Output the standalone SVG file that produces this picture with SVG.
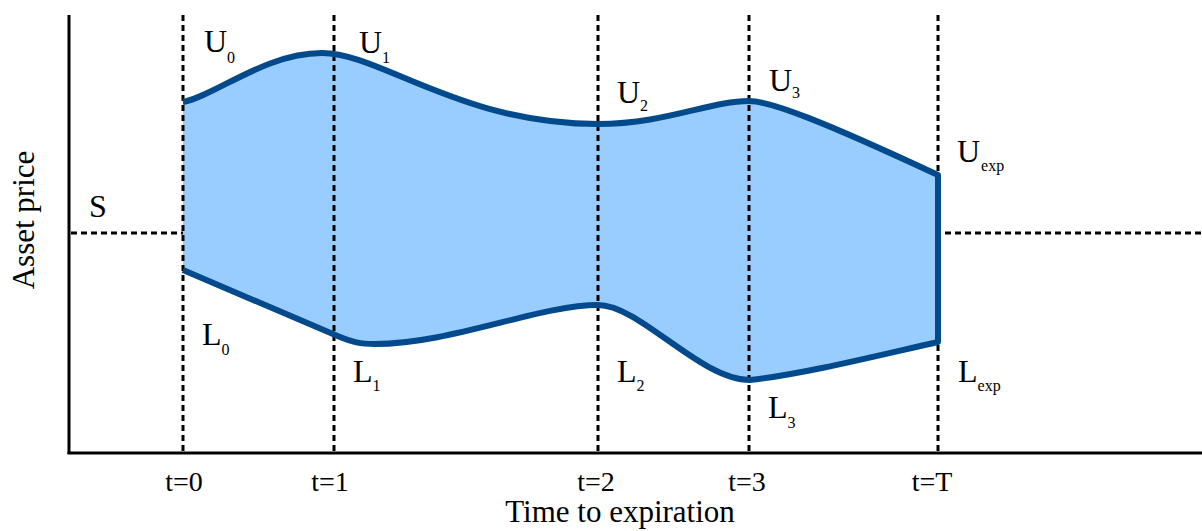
<svg xmlns="http://www.w3.org/2000/svg" width="1202" height="531" viewBox="0 0 1202 531">
<style>
.axis{stroke:#000;stroke-width:3;fill:none}
.dash{stroke:#000;stroke-width:3;stroke-dasharray:6 4;fill:none}
.band{fill:#99CCFF;stroke:none}
.edge{fill:none;stroke:#024A8C;stroke-width:6;stroke-linejoin:round}
text{font-family:"Liberation Serif","Times New Roman",serif;fill:#000}
.lab{font-size:32px}
.sub{font-size:16px}
.tick{font-size:28px;text-anchor:middle}
.title{font-size:31px;text-anchor:middle}
</style>
<rect width="1202" height="531" fill="#fff"/>
<g id="band">
<path class="band" d="M183,102 C215,96 265,53 322,53 C380,53 460,124 598,124 C665,124 710,101 749,101 C770,101 820,120 938,175 L938,342 C880,355 800,375 750,380 C700,380 640,305 598,305 C540,305 450,344 375,344 C360,344 352,342 340,337 L183,270 Z"/>
</g>
<g id="connectors">
<line class="axis" x1="69" y1="15" x2="69" y2="454"/>
<line class="axis" x1="67.5" y1="453" x2="1202" y2="453"/>
<line class="dash" x1="183" y1="15" x2="183" y2="452"/>
<line class="dash" x1="334" y1="15" x2="334" y2="452"/>
<line class="dash" x1="598" y1="15" x2="598" y2="452"/>
<line class="dash" x1="749" y1="15" x2="749" y2="452"/>
<line class="dash" x1="938" y1="15" x2="938" y2="452"/>
<line class="dash" x1="71" y1="233" x2="183" y2="233"/>
<line class="dash" x1="945" y1="233" x2="1202" y2="233"/>
</g>
<g id="boundary">
<path class="edge" d="M183,102 C215,96 265,53 322,53 C380,53 460,124 598,124 C665,124 710,101 749,101 C770,101 820,120 938,175 L938,342 C880,355 800,375 750,380 C700,380 640,305 598,305 C540,305 450,344 375,344 C360,344 352,342 340,337 L183,270"/>
</g>
<g id="upper-labels">
<text class="lab" x="204" y="52">U<tspan class="sub" dy="11">0</tspan></text>
<text class="lab" x="359" y="53">U<tspan class="sub" dy="10">1</tspan></text>
<text class="lab" x="617" y="103">U<tspan class="sub" dy="8">2</tspan></text>
<text class="lab" x="769" y="91">U<tspan class="sub" dy="7">3</tspan></text>
<text class="lab" x="957" y="162">U<tspan class="sub" dx="1" dy="9" font-size="17">exp</tspan></text>
</g>
<g id="lower-labels">
<text class="lab" x="202" y="345">L<tspan class="sub" dy="10">0</tspan></text>
<text class="lab" x="353" y="382">L<tspan class="sub" dy="9">1</tspan></text>
<text class="lab" x="617" y="382">L<tspan class="sub" dy="9">2</tspan></text>
<text class="lab" x="768" y="418">L<tspan class="sub" dy="10">3</tspan></text>
<text class="lab" x="958" y="382">L<tspan class="sub" dy="9" font-size="17">exp</tspan></text>
</g>
<g id="spot-label">
<text class="lab" x="89" y="217">S</text>
</g>
<g id="ticks">
<text class="tick" x="184" y="491">t=0</text>
<text class="tick" x="330" y="491">t=1</text>
<text class="tick" x="596" y="491">t=2</text>
<text class="tick" x="747" y="491">t=3</text>
<text class="tick" x="932" y="491">t=T</text>
</g>
<g id="titles">
<text class="title" x="620" y="522">Time to expiration</text>
<text class="title" transform="translate(34,220) rotate(-90)">Asset price</text>
</g>
</svg>
